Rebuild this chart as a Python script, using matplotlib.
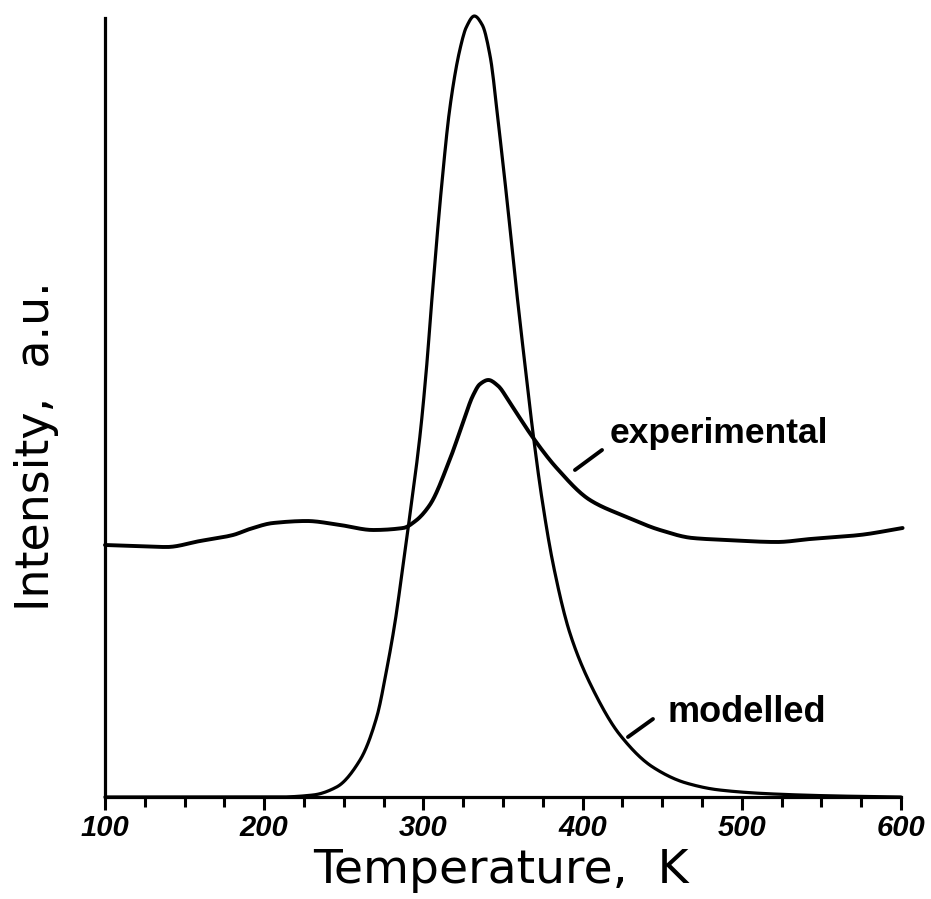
import matplotlib
matplotlib.use('Agg')
import matplotlib.pyplot as plt
import numpy as np
from matplotlib.ticker import MultipleLocator

# temperatures (K) and intensities (a.u.)
T_model = [100, 200, 210, 230.7, 245.5, 260.2, 270.7, 277, 282.2, 286.4, 290.5,
           297.9, 302, 305.2, 311.5, 316.7, 323, 327, 332, 337, 342, 347,
           352.3, 358.6, 363.8, 369, 374.3, 381.6, 392, 406.7, 423.5, 444,
           465, 486, 520, 560, 600]
I_model = [0, 0, 0, 2, 10, 37, 80, 128, 175, 222, 270,
           362, 430, 495, 612, 690, 748, 770, 781, 772, 740, 675,
           600, 505, 432, 362, 300, 232, 164, 107, 62, 30,
           14, 7, 3, 1, 0]

T_exp = [100, 117.6, 138.7, 159.7, 180.4, 191, 205.6, 226.7, 247.6, 268.5,
         287.3, 295, 304, 316.7, 325, 331, 335.6, 340.8, 347, 354, 369,
         383.7, 404.6, 427.7, 448.6, 469, 490.5, 522, 543, 574, 601]
I_exp = [252, 251, 250, 256, 262, 268, 274, 276, 272, 267,
         269, 276, 292, 338, 375, 401, 413, 417, 411, 395, 359,
         329, 297, 280, 267, 259, 257, 255, 258, 262, 269]

xticks = [100, 200, 300, 400, 500, 600]


def smooth(xs, ys, n=800):
    # cubic hermite through the read points (pchip-style slopes)
    xs = np.asarray(xs, float)
    ys = np.asarray(ys, float)
    h = np.diff(xs)
    dl = np.diff(ys) / h
    d = np.zeros_like(ys)
    for i in range(1, len(xs) - 1):
        if dl[i - 1] * dl[i] > 0:
            w1 = 2 * h[i] + h[i - 1]
            w2 = h[i] + 2 * h[i - 1]
            d[i] = (w1 + w2) / (w1 / dl[i - 1] + w2 / dl[i])
    d[0] = dl[0]
    d[-1] = dl[-1]
    xn = np.linspace(xs[0], xs[-1], n)
    idx = np.clip(np.searchsorted(xs, xn, side='right') - 1, 0, len(xs) - 2)
    hh = h[idx]
    t = (xn - xs[idx]) / hh
    yn = ((2 * t**3 - 3 * t**2 + 1) * ys[idx] + (t**3 - 2 * t**2 + t) * hh * d[idx]
          + (-2 * t**3 + 3 * t**2) * ys[idx + 1] + (t**3 - t**2) * hh * d[idx + 1])
    return xn, yn


fig = plt.figure(figsize=(9.31, 8.99), dpi=100)
ax = fig.add_axes([105 / 931, 1 - 797 / 899, 796 / 931, 779 / 899])

xm, ym = smooth(T_model, I_model)
xe, ye = smooth(T_exp, I_exp)
ax.plot(xm, ym, color='black', lw=2.3, clip_on=False, solid_capstyle='round')
ax.plot(xe, ye, color='black', lw=2.8, clip_on=False, solid_capstyle='round')

ax.set_xlim(100, 600)
ax.set_ylim(0, 779)
ax.spines['top'].set_visible(False)
ax.spines['right'].set_visible(False)
for s in ['left', 'bottom']:
    ax.spines[s].set_linewidth(2.3)
ax.set_yticks([])
ax.set_xticks(xticks)
ax.xaxis.set_minor_locator(MultipleLocator(25))
ax.tick_params(axis='x', which='major', direction='out', length=9, width=2.2, pad=3)
ax.tick_params(axis='x', which='minor', direction='out', length=7, width=2.2)
for lab in ax.get_xticklabels():
    lab.set_fontfamily('Liberation Sans')
    lab.set_fontweight('bold')
    lab.set_fontstyle('italic')
    lab.set_fontsize(21)

fig.text(500.5 / 931, 1 - 883 / 899, 'Temperature,  K', fontsize=34,
         family='DejaVu Sans', ha='center', va='baseline')
fig.text(37 / 931, 1 - 446 / 899, 'Intensity,  a.u.', fontsize=33,
         family='DejaVu Sans', ha='center', va='center', rotation=90)

ax.text(417.2, 354, 'experimental', fontsize=25.5, fontweight='bold',
        family='Liberation Sans', va='baseline', ha='left')
ax.plot([395.2, 412.2], [327, 347], color='black', lw=2.8, solid_capstyle='round')
ax.text(453.6, 75, 'modelled', fontsize=26, fontweight='bold',
        family='Liberation Sans', va='baseline', ha='left')
ax.plot([428.5, 444.2], [60, 78], color='black', lw=2.8, solid_capstyle='round')

fig.savefig('out.png', dpi=100)
